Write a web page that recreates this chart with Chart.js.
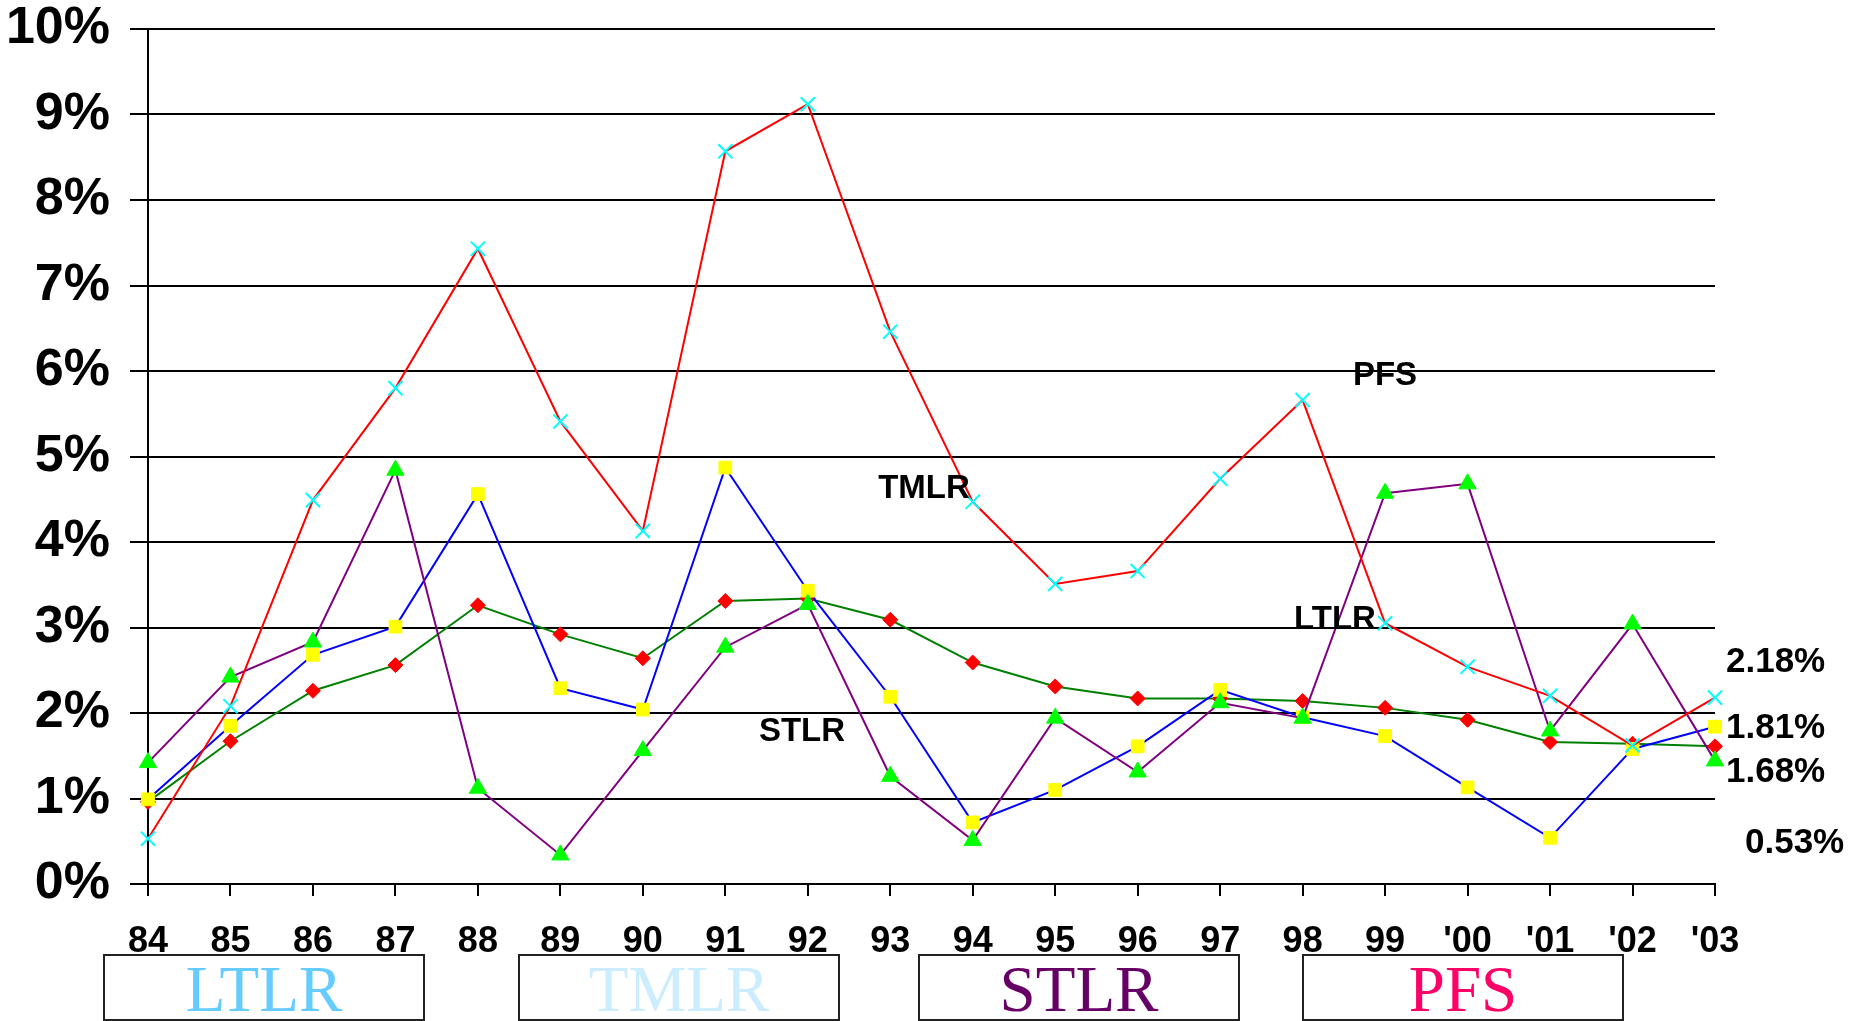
<!DOCTYPE html>
<html>
<head>
<meta charset="utf-8">
<script src="https://cdn.jsdelivr.net/npm/chart.js@4.4.0/dist/chart.umd.min.js"></script>
<style>
  html, body { margin: 0; padding: 0; background: #fff; }
  #wrap { width: 1858px; height: 1021px; position: relative; }
</style>
</head>
<body>
<div id="wrap"><canvas id="rateChart" width="1858" height="1021"></canvas></div>
<script>
// years on the x axis
const years = ['84','85','86','87','88','89','90','91','92','93','94','95','96','97','98','99',"'00","'01","'02","'03"];

// red line, cyan x markers
const pfs  = [0.53, 2.08, 4.49, 5.80, 7.43, 5.41, 4.13, 8.57, 9.12, 6.46, 4.47, 3.51, 3.66, 4.74, 5.66, 3.05, 2.54, 2.20, 1.62, 2.18];
// blue line, yellow squares
const ltlr = [0.99, 1.85, 2.68, 3.01, 4.56, 2.29, 2.04, 4.87, 3.43, 2.19, 0.72, 1.10, 1.61, 2.27, 1.95, 1.73, 1.13, 0.54, 1.58, 1.84];
// green line, red diamonds
const tmlr = [0.96, 1.67, 2.26, 2.56, 3.26, 2.92, 2.64, 3.31, 3.34, 3.09, 2.59, 2.31, 2.17, 2.17, 2.14, 2.06, 1.92, 1.66, 1.64, 1.61];
// purple line, green triangles
const stlr = [1.42, 2.42, 2.83, 4.84, 1.12, 0.34, 1.56, 2.77, 3.27, 1.26, 0.51, 1.94, 1.31, 2.12, 1.94, 4.57, 4.68, 1.79, 3.04, 1.44];

const yTicks = [0, 1, 2, 3, 4, 5, 6, 7, 8, 9, 10];

const NARROW = "'Liberation Sans Narrow', 'Arial Narrow', 'Liberation Sans', Arial, sans-serif";
const SANS = "'Liberation Sans', Arial, sans-serif";
const SERIF = "'Liberation Serif', 'Times New Roman', serif";

// labels written in the plot and beside it
const notes = [
  { text: 'PFS',  x: 1385, y: 376 },
  { text: 'TMLR', x: 924,  y: 489 },
  { text: 'LTLR', x: 1335, y: 620 },
  { text: 'STLR', x: 802,  y: 732 }
];
const endNotes = [
  { text: '2.18%', x: 1726, y: 662 },
  { text: '1.81%', x: 1726, y: 728 },
  { text: '1.68%', x: 1726, y: 772 },
  { text: '0.53%', x: 1745, y: 843 }
];
const legendBoxes = [
  { text: 'LTLR', x: 104,  color: '#66CCFF' },
  { text: 'TMLR', x: 519,  color: '#CCECFF' },
  { text: 'STLR', x: 919,  color: '#660066' },
  { text: 'PFS',  x: 1303, color: '#FF0066' }
];

const textPlugin = {
  id: 'textPlugin',
  afterDraw(chart) {
    const ctx = chart.ctx;
    ctx.save();
    ctx.fillStyle = '#000';
    ctx.textBaseline = 'middle';
    ctx.textAlign = 'center';
    ctx.font = 'bold 33px ' + SANS;
    notes.forEach(n => ctx.fillText(n.text, n.x, n.y));

    ctx.textAlign = 'left';
    ctx.font = 'bold 35px ' + NARROW;
    endNotes.forEach(n => ctx.fillText(n.text, n.x, n.y));

    // boxed series names under the axis
    ctx.lineWidth = 2;
    ctx.strokeStyle = '#222';
    ctx.textAlign = 'center';
    ctx.textBaseline = 'alphabetic';
    ctx.font = '65px ' + SERIF;
    legendBoxes.forEach(b => {
      ctx.strokeRect(b.x, 955, 320, 65);
      ctx.fillStyle = b.color;
      ctx.fillText(b.text, b.x + 160, 1011);
    });
    ctx.restore();
  }
};

const lineSet = (label, data, line, pointStyle, pointColor, radius) => ({
  label, data,
  borderColor: line,
  borderWidth: 2,
  tension: 0,
  fill: false,
  clip: false,
  pointStyle,
  pointRadius: radius,
  pointHoverRadius: radius,
  pointBackgroundColor: pointColor,
  pointBorderColor: pointColor,
  pointBorderWidth: pointStyle === 'crossRot' ? 2 : 1
});

new Chart(document.getElementById('rateChart'), {
  type: 'line',
  data: {
    labels: years,
    datasets: [
      lineSet('PFS',  pfs,  '#FF0000', 'crossRot', '#00FFFF', 10),
      lineSet('STLR', stlr, '#800080', 'triangle', '#00FF00', 10),
      lineSet('LTLR', ltlr, '#0000FF', 'rect',     '#FFFF00', 9),
      lineSet('TMLR', tmlr, '#008000', 'rectRot',  '#FF0000', 7.5)
    ]
  },
  options: {
    responsive: false,
    animation: false,
    devicePixelRatio: 1,
    layout: { padding: { top: 29, right: 143, left: 0, bottom: 0 } },
    plugins: {
      legend: { display: false },
      tooltip: { enabled: false }
    },
    scales: {
      x: {
        offset: false,
        grid: { drawOnChartArea: false, drawTicks: true, tickLength: 12, color: '#000', lineWidth: 2 },
        border: { display: true, color: '#000', width: 2 },
        ticks: {
          color: '#000',
          font: { family: NARROW, size: 36, weight: 'bold' },
          padding: 24,
          maxRotation: 0,
          autoSkip: false
        },
        afterFit(scale) {
          scale.height = 137;
          scale.paddingLeft = 0;
          scale.paddingRight = 0;
        }
      },
      y: {
        min: 0,
        max: 10,
        afterBuildTicks(scale) { scale.ticks = yTicks.map(v => ({ value: v })); },
        grid: { drawOnChartArea: true, drawTicks: true, tickLength: 18, color: '#000', lineWidth: 2 },
        border: { display: true, color: '#000', width: 2 },
        ticks: {
          color: '#000',
          font: { family: NARROW, size: 52, weight: 'bold', lineHeight: 1 },
          padding: 20,
          callback: v => v + '%'
        },
        afterFit(scale) {
          scale.width = 148;
          scale.paddingTop = 0;
          scale.paddingBottom = 0;
        }
      }
    }
  },
  plugins: [textPlugin]
});
</script>
</body>
</html>
